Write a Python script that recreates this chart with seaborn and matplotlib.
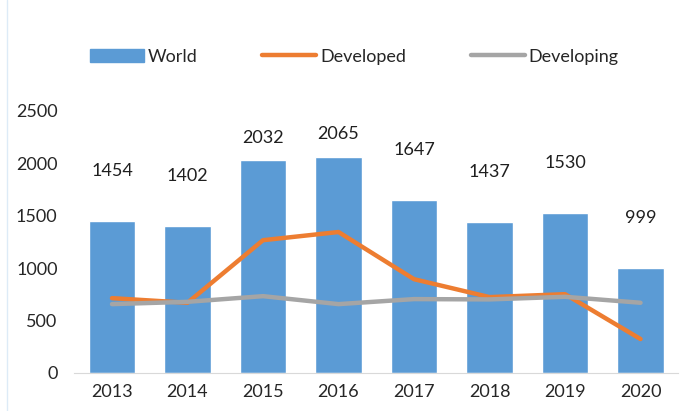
import pandas as pd
import matplotlib.pyplot as plt
import seaborn as sns
from matplotlib.patches import Patch
from matplotlib.lines import Line2D

years = ["2013", "2014", "2015", "2016", "2017", "2018", "2019", "2020"]
world = [1454, 1402, 2032, 2065, 1647, 1437, 1530, 999]
developed = [714, 670, 1267, 1345, 895, 724, 752, 324]
developing = [657, 679, 733, 657, 705, 702, 727, 670]

df = pd.DataFrame({"year": years, "World": world,
                   "Developed": developed, "Developing": developing})

sns.set_style("white")
plt.rcParams['font.family'] = ['Lato', 'DejaVu Sans']

fig = plt.figure(figsize=(6.81, 4.11), dpi=100)
ax = fig.add_axes([0.109, 0.0925, 0.887, 0.6375])

sns.barplot(data=df, x="year", y="World", color="#5B9BD5", width=0.62,
            saturation=1, ax=ax)
sns.lineplot(data=df, x="year", y="Developed", color="#ED7D31", linewidth=3.2,
             ax=ax, sort=False)
sns.lineplot(data=df, x="year", y="Developing", color="#A5A5A5", linewidth=3.2,
             ax=ax, sort=False)

# labels sit above bars; the tall ones are pulled down to stay inside
for i, v in enumerate(world):
    off = 36 if v + 480 < 2300 else 16
    ax.annotate(str(v), (i, v), xytext=(0, off), textcoords="offset points",
                ha="center", va="center", fontsize=13, color="#1f1f1f")

ax.set_ylim(0, 2500)
ax.set_xlim(-0.5, 7.5)
ax.set_yticks([0, 500, 1000, 1500, 2000, 2500])
ax.set_xlabel("")
ax.set_ylabel("")
ax.tick_params(axis="both", length=0, labelsize=13, labelcolor="#262626")
ax.tick_params(axis="x", pad=8)
ax.tick_params(axis="y", pad=12)
for s in ["top", "right", "left"]:
    ax.spines[s].set_visible(False)
ax.spines["bottom"].set_color("#D9D9D9")

handles = [Patch(color="#5B9BD5"),
           Line2D([], [], color="#ED7D31", linewidth=3.2, solid_capstyle="round"),
           Line2D([], [], color="#A5A5A5", linewidth=3.2, solid_capstyle="round")]
fig.legend(handles, ["World", "Developed", "Developing"], loc="center",
           bbox_to_anchor=(0.52, 0.862), ncol=3, frameon=False, fontsize=13,
           handlelength=3.0, handletextpad=0.2, columnspacing=3.6,
           labelcolor="#262626")

fig.add_artist(Line2D([0.011, 0.011], [0, 1], color="#DDEBF7", linewidth=1))

plt.savefig("out.png", dpi=100)
